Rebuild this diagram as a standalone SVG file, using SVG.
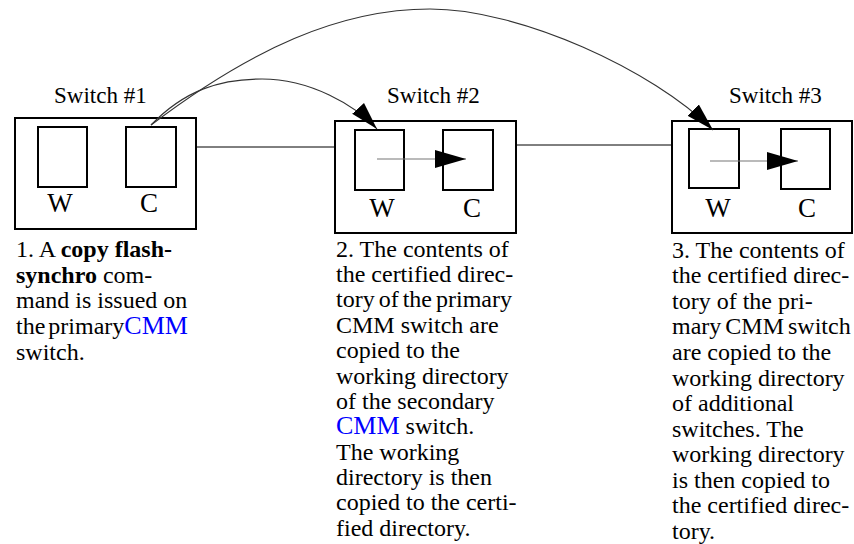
<svg xmlns="http://www.w3.org/2000/svg" width="854" height="544" viewBox="0 0 854 544">
<style>
.box{fill:#fff;stroke:#000;stroke-width:2}
.t{font-family:"Liberation Serif","Times New Roman",serif;fill:#000}
.lbl{font-size:23px}
.wc{font-size:27px;text-anchor:middle}
.body{font-size:24px}
.b{font-weight:bold}
.blue{fill:#0000ff;font-size:26px}
.link{fill:none;stroke:#000;stroke-width:1}
.curve{fill:none;stroke:#333;stroke-width:1.1}
.inner{fill:none;stroke:#777;stroke-width:1.2}
</style>
<defs>
<marker id="headC" markerUnits="userSpaceOnUse" markerWidth="30" markerHeight="18" refX="28" refY="8" orient="auto" viewBox="0 0 30 16">
<path d="M0,0 L28,8 L0,16 Z" fill="#000"/>
</marker>
<marker id="headH" markerUnits="userSpaceOnUse" markerWidth="32" markerHeight="20" refX="31" refY="9" orient="auto" viewBox="0 0 32 18">
<path d="M0,0 L31,9 L0,18 Z" fill="#000"/>
</marker>
</defs>

<g id="switch1">
<rect class="box" x="15" y="118" width="181" height="111"/>
<rect class="box" x="38" y="127" width="49" height="60"/>
<rect class="box" x="126" y="127" width="50" height="60"/>
<text class="t lbl" x="54" y="103">Switch #1</text>
<text class="t wc" x="60" y="212">W</text>
<text class="t wc" x="149" y="212">C</text>
</g>

<g id="switch2">
<rect class="box" x="335" y="121" width="181" height="112"/>
<rect class="box" x="355" y="130" width="49" height="60"/>
<rect class="box" x="443" y="130" width="50" height="60"/>
<text class="t lbl" x="387" y="103">Switch #2</text>
<text class="t wc" x="382" y="217">W</text>
<text class="t wc" x="472" y="217">C</text>
</g>

<g id="switch3">
<rect class="box" x="672" y="121" width="180" height="112"/>
<rect class="box" x="689" y="129" width="50" height="59"/>
<rect class="box" x="781" y="129" width="49" height="60"/>
<text class="t lbl" x="729" y="103">Switch #3</text>
<text class="t wc" x="718" y="217">W</text>
<text class="t wc" x="807" y="217">C</text>
</g>

<g id="connectors">
<line class="link" x1="196" y1="147" x2="335" y2="147"/>
<line class="link" x1="516" y1="145" x2="672" y2="145"/>
<path class="curve" d="M151,125 C185,90 220,79 262,79 C310,79 355,105 377,129" marker-end="url(#headC)"/>
<path class="curve" d="M151,125 C251,49 340,9 430,9 C520,9 653,70 713,130" marker-end="url(#headC)"/>
<line class="inner" x1="377" y1="159" x2="466" y2="159" marker-end="url(#headH)"/>
<line class="inner" x1="710" y1="161" x2="798" y2="161" marker-end="url(#headH)"/>
</g>

<g id="caption1">
<text class="t body" x="16" y="256.7">1. A <tspan class="b">copy flash-</tspan></text>
<text class="t body" x="16" y="282.5"><tspan class="b">synchro</tspan> com-</text>
<text class="t body" x="16" y="308.3">mand is issued on</text>
<text class="t body" x="16" y="334.1" word-spacing="-3">the primary<tspan class="blue">CMM</tspan></text>
<text class="t body" x="16" y="359.9">switch.</text>
</g>

<g id="caption2">
<text class="t body" x="336" y="256.7">2. The contents of</text>
<text class="t body" x="336" y="282.0">the certified direc-</text>
<text class="t body" x="336" y="307.4" word-spacing="-2">tory of the primary</text>
<text class="t body" x="336" y="332.8">CMM switch are</text>
<text class="t body" x="336" y="358.1">copied to the</text>
<text class="t body" x="336" y="383.5">working directory</text>
<text class="t body" x="336" y="408.8">of the secondary</text>
<text class="t body" x="336" y="434.2"><tspan class="blue">CMM</tspan> switch.</text>
<text class="t body" x="336" y="459.5">The working</text>
<text class="t body" x="336" y="484.9">directory is then</text>
<text class="t body" x="336" y="510.2">copied to the certi-</text>
<text class="t body" x="336" y="535.6">fied directory.</text>
</g>

<g id="caption3">
<text class="t body" x="672" y="257.7">3. The contents of</text>
<text class="t body" x="672" y="283.3">the certified direc-</text>
<text class="t body" x="672" y="308.8">tory of the pri-</text>
<text class="t body" x="672" y="334.4" word-spacing="-2">mary CMM switch</text>
<text class="t body" x="672" y="360.0">are copied to the</text>
<text class="t body" x="672" y="385.5">working directory</text>
<text class="t body" x="672" y="411.1">of additional</text>
<text class="t body" x="672" y="436.7">switches. The</text>
<text class="t body" x="672" y="462.3">working directory</text>
<text class="t body" x="672" y="487.8">is then copied to</text>
<text class="t body" x="672" y="513.4">the certified direc-</text>
<text class="t body" x="672" y="539.0">tory.</text>
</g>
</svg>
